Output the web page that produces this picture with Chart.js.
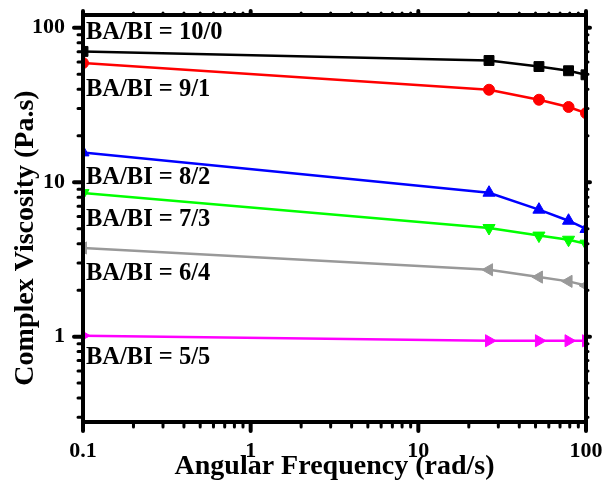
<!DOCTYPE html>
<html>
<head>
<meta charset="utf-8">
<script src="https://cdn.jsdelivr.net/npm/chart.js@4.4.0/dist/chart.umd.min.js"></script>
<style>
    html, body { margin: 0; padding: 0; background: #fff; }
    #wrap { width: 606px; height: 487px; }
</style>
</head>
<body>
<div id="wrap"><canvas id="viscosityChart"></canvas></div>
<script>
// data
const frequencies = [0.1, 26.4, 52.4, 78.7, 100];
const ratioNames = ['BA/BI = 10/0', 'BA/BI = 9/1', 'BA/BI = 8/2', 'BA/BI = 7/3', 'BA/BI = 6/4', 'BA/BI = 5/5'];
const visc10_0 = [70.3, 61.4, 56.1, 52.7, 49.6];
const visc9_1 = [59.1, 39.7, 34.2, 30.7, 28.0];
const visc8_2 = [15.6, 8.55, 6.64, 5.63, 4.98];
const visc7_3 = [8.5, 5.05, 4.51, 4.24, 4.0];
const visc6_4 = [3.75, 2.71, 2.43, 2.28, 2.14];
const visc5_5 = [1.015, 0.94, 0.94, 0.94, 0.94];
// level (Pa.s) where each ratio label sits
const labelLevels = [85, 36.3, 9.78, 5.23, 2.34, 0.66];
const xTickValues = [0.1, 1, 10, 100];
const yTickValues = [1, 10, 100];

const seriesValues = [visc10_0, visc9_1, visc8_2, visc7_3, visc6_4, visc5_5];
const colors = ['#000000', '#ff0000', '#0000ff', '#00ff00', '#999999', '#ff00ff'];
const markers = [
    { style: 'rect', radius: 7, rotation: 0 },
    { style: 'circle', radius: 5.5, rotation: 0 },
    { style: 'triangle', radius: 7, rotation: 0 },
    { style: 'triangle', radius: 7, rotation: 180 },
    { style: 'triangle', radius: 7, rotation: 270 },
    { style: 'triangle', radius: 7, rotation: 90 }
];

const serif = '"Liberation Serif", "Times New Roman", serif';

function toPoints(values) {
    return frequencies.map((f, i) => ({ x: f, y: values[i] }));
}

function isNice(v) {
    const m = v / Math.pow(10, Math.floor(Math.log10(v) + 1e-9));
    return Math.abs(m - Math.round(m)) < 1e-6;
}

function isMajor(v) {
    const l = Math.log10(v);
    return Math.abs(l - Math.round(l)) < 1e-6;
}

function fixScaleBox(scale, size) {
    if (scale.isHorizontal()) scale.height = size;
    else scale.width = size;
    scale.paddingTop = 0;
    scale.paddingBottom = 0;
    scale.paddingLeft = 0;
    scale.paddingRight = 0;
}

const framePlugin = {
    id: 'framePlugin',
    afterDatasetsDraw(chart) {
        const ctx = chart.ctx;
        const area = chart.chartArea;
        const xs = chart.scales.x;
        const ys = chart.scales.y;
        ctx.save();
        ctx.strokeStyle = '#000';
        ctx.lineCap = 'round';

        // tick marks on all four sides
        xs.ticks.forEach(t => {
            if (!isNice(t.value)) return;
            const px = xs.getPixelForValue(t.value);
            const major = isMajor(t.value);
            ctx.lineWidth = major ? 4 : 3;
            ctx.beginPath();
            ctx.moveTo(px, area.bottom);
            ctx.lineTo(px, area.bottom + (major ? 9 : 5));
            ctx.moveTo(px, area.top);
            ctx.lineTo(px, area.top - (major ? 4 : 2));
            ctx.stroke();
        });
        ys.ticks.forEach(t => {
            if (!isNice(t.value)) return;
            const py = ys.getPixelForValue(t.value);
            const major = isMajor(t.value);
            ctx.lineWidth = major ? 4 : 3;
            ctx.beginPath();
            ctx.moveTo(area.left, py);
            ctx.lineTo(area.left - (major ? 9 : 5), py);
            ctx.moveTo(area.right, py);
            ctx.lineTo(area.right + (major ? 4 : 2), py);
            ctx.stroke();
        });

        // frame
        ctx.lineCap = 'butt';
        ctx.lineWidth = 4;
        ctx.strokeRect(area.left, area.top, area.right - area.left, area.bottom - area.top);

        // ratio labels
        ctx.fillStyle = '#000';
        ctx.font = 'bold 24.5px ' + serif;
        ctx.textAlign = 'left';
        ctx.textBaseline = 'alphabetic';
        ratioNames.forEach((name, i) => {
            ctx.fillText(name, area.left + 3, ys.getPixelForValue(labelLevels[i]));
        });

        // axis titles
        ctx.font = 'bold 28px ' + serif;
        ctx.textAlign = 'center';
        ctx.fillText('Angular Frequency (rad/s)', (area.left + area.right) / 2, 474);
        ctx.translate(33, 238);
        ctx.rotate(-Math.PI / 2);
        ctx.fillText('Complex Viscosity (Pa.s)', 0, 0);
        ctx.restore();
    }
};

new Chart(document.getElementById('viscosityChart'), {
    type: 'line',
    data: {
        datasets: seriesValues.map((vals, i) => ({
            label: ratioNames[i],
            data: toPoints(vals),
            borderColor: colors[i],
            backgroundColor: colors[i],
            borderWidth: 2.5,
            pointStyle: markers[i].style,
            pointRadius: markers[i].radius,
            pointRotation: markers[i].rotation,
            pointBorderWidth: 1,
            tension: 0,
            clip: 0
        }))
    },
    options: {
        responsive: true,
        maintainAspectRatio: false,
        animation: false,
        layout: { padding: { top: 15, right: 20, left: 0, bottom: 0 } },
        plugins: {
            legend: { display: false },
            tooltip: { enabled: false }
        },
        scales: {
            x: {
                type: 'logarithmic',
                min: 0.1,
                max: 100,
                grid: { display: false, drawTicks: false },
                border: { display: false },
                ticks: {
                    autoSkip: false,
                    maxRotation: 0,
                    padding: 16,
                    color: '#000',
                    font: { family: serif, size: 22, weight: 'bold' },
                    callback: v => xTickValues.some(t => Math.abs(t - v) < 1e-9) ? String(v) : ''
                },
                afterFit: s => fixScaleBox(s, 65)
            },
            y: {
                type: 'logarithmic',
                min: 0.28,
                max: 121,
                grid: { display: false, drawTicks: false },
                border: { display: false },
                ticks: {
                    autoSkip: false,
                    padding: 18,
                    color: '#000',
                    font: { family: serif, size: 22, weight: 'bold' },
                    callback: v => yTickValues.some(t => Math.abs(t - v) < 1e-9) ? String(v) : ''
                },
                afterFit: s => fixScaleBox(s, 83)
            }
        }
    },
    plugins: [framePlugin]
});
</script>
</body>
</html>
